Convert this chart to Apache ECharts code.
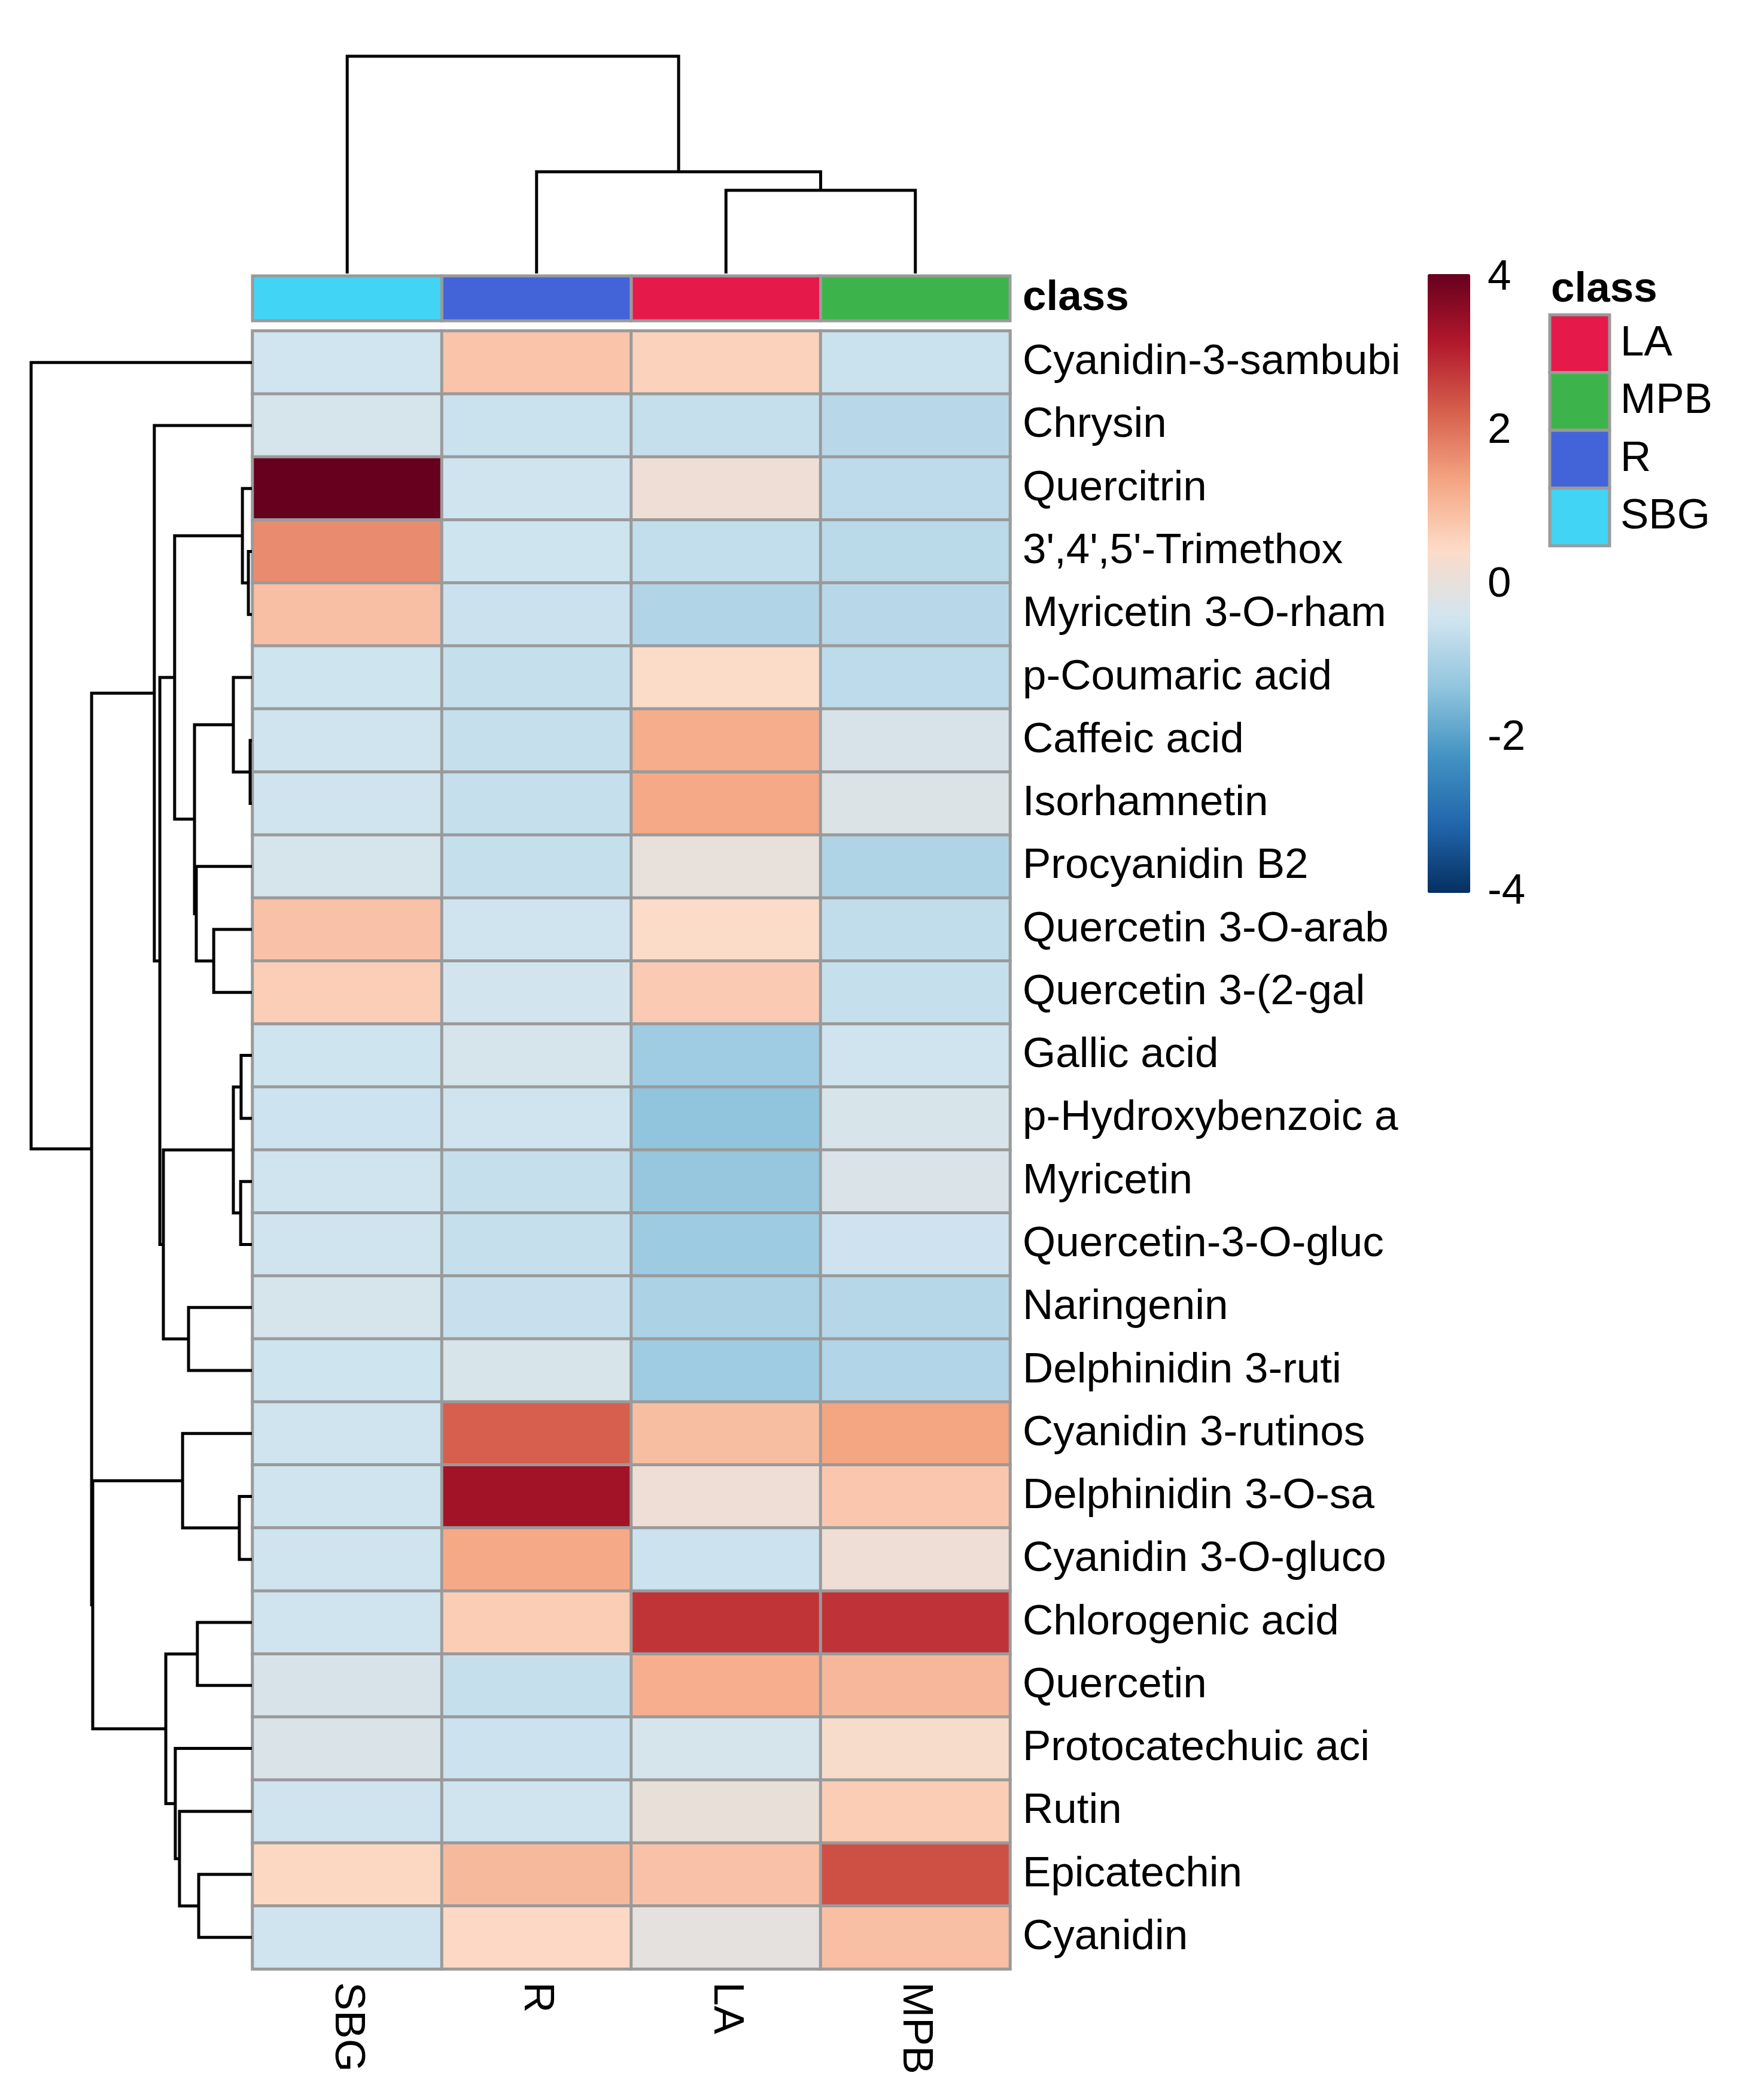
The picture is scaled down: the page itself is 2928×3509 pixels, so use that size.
<!DOCTYPE html>
<html><head><meta charset="utf-8">
<script src="https://cdn.jsdelivr.net/npm/echarts@6/dist/echarts.min.js"></script>
<style>html,body{margin:0;padding:0;background:#fff}#c{width:2928px;height:3509px}</style>
</head><body><div id="c"></div>
<script>
// ---------------- data ----------------
const colNames = ['SBG', 'R', 'LA', 'MPB'];
const rowNames = [
  'Cyanidin-3-sambubi', 'Chrysin', 'Quercitrin', "3',4',5'-Trimethox", 'Myricetin 3-O-rham',
  'p-Coumaric acid', 'Caffeic acid', 'Isorhamnetin', 'Procyanidin B2', 'Quercetin 3-O-arab',
  'Quercetin 3-(2-gal', 'Gallic acid', 'p-Hydroxybenzoic a', 'Myricetin', 'Quercetin-3-O-gluc',
  'Naringenin', 'Delphinidin 3-ruti', 'Cyanidin 3-rutinos', 'Delphinidin 3-O-sa', 'Cyanidin 3-O-gluco',
  'Chlorogenic acid', 'Quercetin', 'Protocatechuic aci', 'Rutin', 'Epicatechin', 'Cyanidin'
];
const valSBG = [-0.45, -0.35, 4.0, 1.67, 0.9, -0.48, -0.47, -0.47, -0.35, 0.85, 0.65, -0.48, -0.5,
  -0.47, -0.47, -0.35, -0.48, -0.47, -0.47, -0.47, -0.47, -0.3, -0.28, -0.47, 0.5, -0.47];
const valR = [0.82, -0.55, -0.47, -0.48, -0.53, -0.62, -0.62, -0.62, -0.62, -0.47, -0.42, -0.35, -0.47,
  -0.62, -0.6, -0.57, -0.32, 2.23, 3.3, 1.27, 0.68, -0.6, -0.52, -0.47, 1.0, 0.47];
const valLA = [0.6, -0.62, 0.15, -0.65, -0.9, 0.4, 1.2, 1.27, 0.02, 0.4, 0.72, -1.15, -1.35,
  -1.28, -1.18, -0.98, -1.15, 0.92, 0.15, -0.52, 2.77, 1.18, -0.35, 0.05, 0.85, -0.05];
const valMPB = [-0.55, -0.8, -0.72, -0.77, -0.8, -0.72, -0.3, -0.25, -0.92, -0.67, -0.6, -0.47, -0.32,
  -0.28, -0.49, -0.82, -0.88, 1.33, 0.77, 0.14, 2.78, 1.03, 0.33, 0.67, 2.42, 0.9];

const colClass = ['SBG', 'R', 'LA', 'MPB'];
const classNames = ['LA', 'MPB', 'R', 'SBG'];
const classColors = ['#E6194B', '#3CB44B', '#4363D8', '#42D4F4'];

// hclust-style merges: negative = leaf (-1 = first row), positive = earlier merge (1-based), height
const rowMerge = [
  [-7, -8, 0.08], [-4, -5, 0.16], [-3, 2, 0.43], [-12, -13, 0.49], [-14, -15, 0.51],
  [-19, -20, 0.57], [4, 5, 0.84], [-6, 1, 0.84], [-10, -11, 1.73], [-25, -26, 2.41],
  [-21, -22, 2.47], [-9, 9, 2.52], [8, 12, 2.60], [-16, -17, 2.87], [-18, 6, 3.14],
  [-24, 10, 3.28], [-23, 16, 3.47], [3, 13, 3.50], [11, 17, 3.90], [7, 14, 4.01],
  [18, 20, 4.17], [-2, 21, 4.42], [15, 19, 7.21], [22, 23, 7.26], [-1, 24, 10.0]
];
const colMerge = [[-3, -4, 3.83], [-2, 1, 4.68], [-1, 2, 10.0]];

const palette = ['#053061', '#2166AC', '#4393C3', '#92C5DE', '#D1E5F0',
  '#FDDBC7', '#F4A582', '#D6604D', '#B2182B', '#67001F'];

// ---------------- build ----------------
const FONT = "'Liberation Sans', Arial, Helvetica, sans-serif";
const cols = [valSBG, valR, valLA, valMPB];
const heatData = [];
cols.forEach((arr, ci) => arr.forEach((v, ri) => heatData.push([ci, ri, v])));

function dendro(merges) {
  const pos = [], hgt = [], segs = [];
  const get = ref => ref < 0 ? [-ref - 1, 0] : [pos[ref - 1], hgt[ref - 1]];
  merges.forEach((m, i) => {
    const a = get(m[0]), b = get(m[1]);
    pos[i] = (a[0] + b[0]) / 2; hgt[i] = m[2];
    segs.push([a[0], a[1], b[0], b[1], m[2]]);
  });
  return segs;
}
const rowSegs = dendro(rowMerge);
const colSegs = dendro(colMerge);

const GREY = '#9A9A9A';
const hidden = {show: false};

const chart = echarts.init(document.getElementById('c'), null, {renderer: 'canvas'});
chart.setOption({
  backgroundColor: '#ffffff',
  animation: false,
  textStyle: {fontFamily: FONT},
  title: {text: 'class', left: 2592, top: 449, padding: 0,
    textStyle: {fontSize: 71, fontWeight: 'bold', color: '#000', fontFamily: FONT}},
  grid: [
    {left: 422, top: 553, width: 1266, height: 2737},   // 0 heatmap
    {left: 422, top: 461, width: 1266, height: 75},     // 1 class bar
    {left: 422, top: 94, width: 1266, height: 363},     // 2 column dendrogram
    {left: 52, top: 553, width: 369, height: 2737},     // 3 row dendrogram
    {left: 2386, top: 464, width: 71, height: 1026},    // 4 colour bar ticks
    {left: 2590, top: 526, width: 100, height: 386}     // 5 class legend
  ],
  xAxis: [
    {gridIndex: 0, type: 'category', data: colNames, position: 'bottom',
      axisLine: hidden, axisTick: hidden, splitLine: hidden,
      axisLabel: {rotate: -90, fontSize: 71, margin: 22, color: '#000', interval: 0, fontFamily: FONT}},
    {gridIndex: 1, type: 'category', data: colClass, show: false},
    {gridIndex: 2, type: 'value', min: -0.5, max: 3.5, show: false},
    {gridIndex: 3, type: 'value', min: 0, max: 10, inverse: true, show: false},
    {gridIndex: 4, type: 'value', show: false},
    {gridIndex: 5, type: 'category', data: ['c'], show: false}
  ],
  yAxis: [
    {gridIndex: 0, type: 'category', data: rowNames, inverse: true, position: 'right',
      axisLine: hidden, axisTick: hidden, splitLine: hidden,
      axisLabel: {fontSize: 71, margin: 21, color: '#000', interval: 0, fontFamily: FONT}},
    {gridIndex: 1, type: 'category', data: ['class'], position: 'right',
      axisLine: hidden, axisTick: hidden,
      axisLabel: {fontSize: 71, margin: 21, color: '#000', fontWeight: 'bold', fontFamily: FONT}},
    {gridIndex: 2, type: 'value', min: 0, max: 10, show: false},
    {gridIndex: 3, type: 'value', min: -0.5, max: 25.5, inverse: true, show: false},
    {gridIndex: 4, type: 'value', min: -4, max: 4, interval: 2, position: 'right',
      axisLine: hidden, axisTick: hidden, splitLine: hidden,
      axisLabel: {fontSize: 71, margin: 29, color: '#000', fontFamily: FONT}},
    {gridIndex: 5, type: 'category', data: classNames, inverse: true, position: 'right',
      axisLine: hidden, axisTick: hidden,
      axisLabel: {fontSize: 71, margin: 18, color: '#000', interval: 0, fontFamily: FONT}}
  ],
  visualMap: {
    type: 'continuous', min: -4, max: 4, seriesIndex: 0, calculable: false,
    left: 2386, top: 458, itemWidth: 71, itemHeight: 1034, padding: 0,
    text: null, showLabel: false, hoverLink: false,
    inRange: {color: palette}
  },
  series: [
    {type: 'heatmap', xAxisIndex: 0, yAxisIndex: 0, data: heatData,
      itemStyle: {borderColor: GREY, borderWidth: 5},
      emphasis: {disabled: true}, progressive: 0},
    {type: 'custom', xAxisIndex: 1, yAxisIndex: 1,
      data: colClass.map((c, i) => ({value: [i, 0], itemStyle: {color: classColors[classNames.indexOf(c)]}})),
      renderItem: (params, api) => {
        const c = api.coord([api.value(0), api.value(1)]);
        const s = api.size([1, 1]);
        return {type: 'rect', shape: {x: c[0] - s[0] / 2, y: c[1] - s[1] / 2, width: s[0], height: s[1]},
          style: {fill: api.visual('color'), stroke: GREY, lineWidth: 5}};
      }},
    {type: 'custom', xAxisIndex: 5, yAxisIndex: 5,
      data: classNames.map((c, i) => ({value: [0, i], itemStyle: {color: classColors[i]}})),
      renderItem: (params, api) => {
        const c = api.coord([api.value(0), api.value(1)]);
        const s = api.size([1, 1]);
        return {type: 'rect', shape: {x: c[0] - s[0] / 2, y: c[1] - s[1] / 2, width: s[0], height: s[1]},
          style: {fill: api.visual('color'), stroke: GREY, lineWidth: 5}};
      }},
    {type: 'custom', xAxisIndex: 2, yAxisIndex: 2, data: colSegs,
      renderItem: (params, api) => {
        const p1 = api.value(0), h1 = api.value(1), p2 = api.value(2), h2 = api.value(3), h = api.value(4);
        const pts = [api.coord([p1, h1]), api.coord([p1, h]), api.coord([p2, h]), api.coord([p2, h2])];
        return {type: 'polyline', shape: {points: pts}, style: {stroke: '#000', lineWidth: 5, fill: null, lineJoin: 'miter'}};
      }},
    {type: 'custom', xAxisIndex: 3, yAxisIndex: 3, data: rowSegs,
      renderItem: (params, api) => {
        const p1 = api.value(0), h1 = api.value(1), p2 = api.value(2), h2 = api.value(3), h = api.value(4);
        const pts = [api.coord([h1, p1]), api.coord([h, p1]), api.coord([h, p2]), api.coord([h2, p2])];
        return {type: 'polyline', shape: {points: pts}, style: {stroke: '#000', lineWidth: 5, fill: null, lineJoin: 'miter'}};
      }}
  ]
});
</script></body></html>
